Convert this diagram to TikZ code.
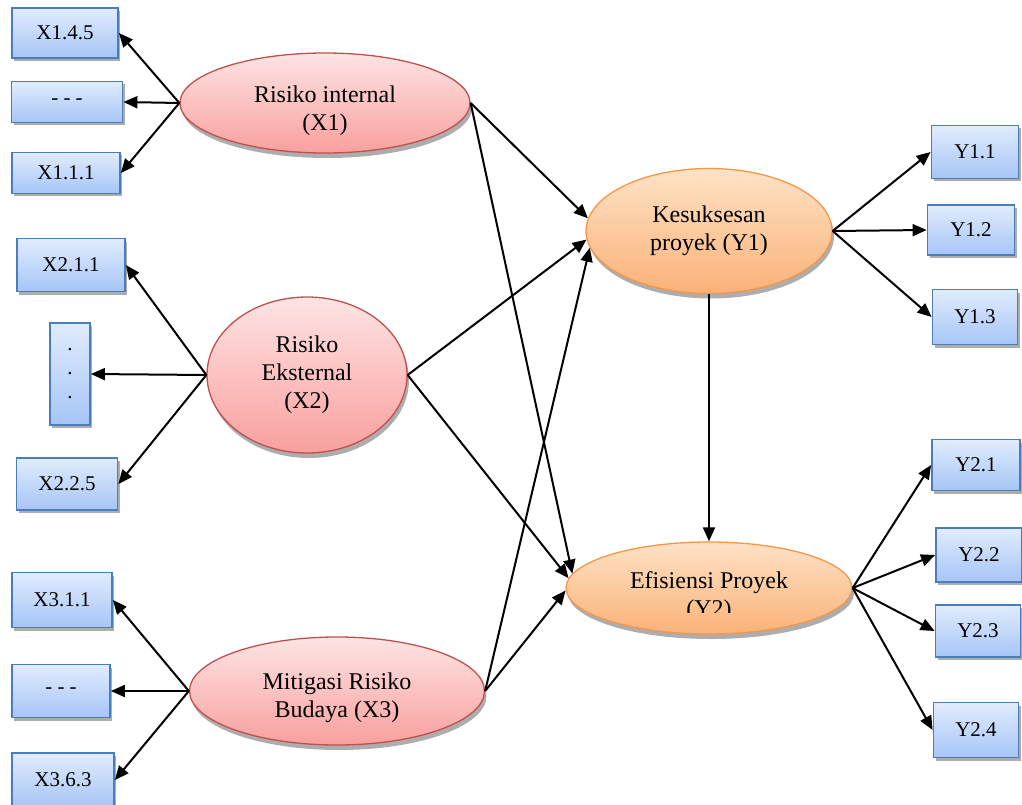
\documentclass[tikz,border=0pt]{standalone}
\usepackage{fontspec}
\setmainfont{Liberation Serif}
\usetikzlibrary{shapes.geometric,shadows,arrows.meta}

\definecolor{boxtop}{RGB}{225,236,253}
\definecolor{boxbot}{RGB}{166,197,247}
\definecolor{boxline}{RGB}{74,126,187}
\definecolor{redtop}{RGB}{254,228,228}
\definecolor{redbot}{RGB}{248,160,158}
\definecolor{redline}{RGB}{192,80,77}
\definecolor{orgtop}{RGB}{254,226,198}
\definecolor{orgbot}{RGB}{250,178,120}
\definecolor{orgline}{RGB}{247,150,70}

\begin{document}
\begin{tikzpicture}[x=1pt,y=-1pt,
  ind/.style={draw=boxline,line width=1.8pt,top color=boxtop,bottom color=boxbot,
    minimum height=50pt,inner sep=0pt,font=\fontsize{21}{24}\selectfont,
    drop shadow={shadow xshift=2pt,shadow yshift=-3pt,fill=black!40,opacity=0.8}},
  risk/.style={ellipse,draw=redline,line width=1.3pt,top color=redtop,bottom color=redbot,
    inner sep=0pt,align=center,font=\fontsize{24}{28}\selectfont,
    drop shadow={shadow xshift=2pt,shadow yshift=-5pt,fill=black!40,opacity=0.8}},
  hasil/.style={risk,draw=orgline,top color=orgtop,bottom color=orgbot},
  arr/.style={-{Triangle[length=14pt,width=12pt]},line width=2pt}]

\useasboundingbox (0,0) rectangle (1022,805);

% indikator X
\node[ind,minimum width=106pt] (x145) at (65,33) {X1.4.5};
\node[ind,minimum width=111pt,minimum height=41pt] (x1d) at (67,102) {- - -};
\node[ind,minimum width=108pt,minimum height=41pt] (x111) at (66,173) {X1.1.1};
\node[ind,minimum width=108pt,minimum height=53pt] (x211) at (71,265) {X2.1.1};
\node[ind,minimum width=40pt,minimum height=102pt,align=center] (x2d) at (70,374) {.\\.\\.};
\node[ind,minimum width=101pt,minimum height=52pt] (x225) at (67,484) {X2.2.5};
\node[ind,minimum width=100pt,minimum height=55pt] (x311) at (62,600) {X3.1.1};
\node[ind,minimum width=98pt,minimum height=53pt] (x3d) at (61,691) {- - -};
\node[ind,minimum width=102pt,minimum height=54pt] (x363) at (63,780) {X3.6.3};

% indikator Y
\node[ind,minimum width=87pt,minimum height=53pt] (y11) at (975,152) {Y1.1};
\node[ind,minimum width=87pt] (y12) at (971,230) {Y1.2};
\node[ind,minimum width=85pt,minimum height=55pt] (y13) at (975,317) {Y1.3};
\node[ind,minimum width=88pt,minimum height=51pt] (y21) at (976,465) {Y2.1};
\node[ind,minimum width=86pt,minimum height=54pt] (y22) at (979,555) {Y2.2};
\node[ind,minimum width=85pt,minimum height=52pt] (y23) at (978,631) {Y2.3};
\node[ind,minimum width=85pt,minimum height=55pt] (y24) at (976,730) {Y2.4};

% variabel
\node[risk,minimum width=290pt,minimum height=100pt] (x1) at (325,103) {\rule{0pt}{33pt}Risiko internal\\(X1)};
\node[risk,minimum width=200pt,minimum height=156pt] (x2) at (307,375) {Risiko\\Eksternal\\(X2)};
\node[risk,minimum width=295pt,minimum height=108pt] (x3) at (337,691) {\rule{0pt}{31pt}Mitigasi Risiko\\Budaya (X3)};
\node[hasil,minimum width=246pt,minimum height=125pt] (y1) at (709,231) {Kesuksesan\\proyek (Y1)};
\node[hasil,minimum width=286pt,minimum height=92pt] (y2) at (709,588) {};
\begin{scope}
\clip (560,540) rectangle (860,612);
\node[align=center,font=\fontsize{24}{28}\selectfont] (y2lbl) at (709,597) {Efisiensi Proyek\\(Y2)};
\end{scope}

% panah
\draw[arr] (x1.west) -- (x145.east);
\draw[arr] (x1.west) -- (x1d.east);
\draw[arr] (x1.west) -- (x111.east);
\draw[arr] (x2.west) -- (x211.east);
\draw[arr] (x2.west) -- (x2d.east);
\draw[arr] (x2.west) -- (x225.east);
\draw[arr] (x3.west) -- (x311.east);
\draw[arr] (x3.west) -- (x3d.east);
\draw[arr] (x3.west) -- (x363.east);

\draw[arr] (x1.east) -- (y1.174);
\draw[arr] (x1.east) -- (y2.174);
\draw[arr] (x2.east) -- (y1.184);
\draw[arr] (x2.east) -- (y2.176);
\draw[arr] (x3.east) -- (y1.188);
\draw[arr] (x3.east) -- (y2.181);
\draw[arr] (y1.south) -- (y2.north);

\draw[arr] (y1.east) -- (y11.west);
\draw[arr] (y1.east) -- (y12.west);
\draw[arr] (y1.east) -- (y13.west);
\draw[arr] (y2.east) -- (y21.west);
\draw[arr] (y2.east) -- (y22.west);
\draw[arr] (y2.east) -- (y23.west);
\draw[arr] (y2.east) -- (y24.west);

\end{tikzpicture}
\end{document}
